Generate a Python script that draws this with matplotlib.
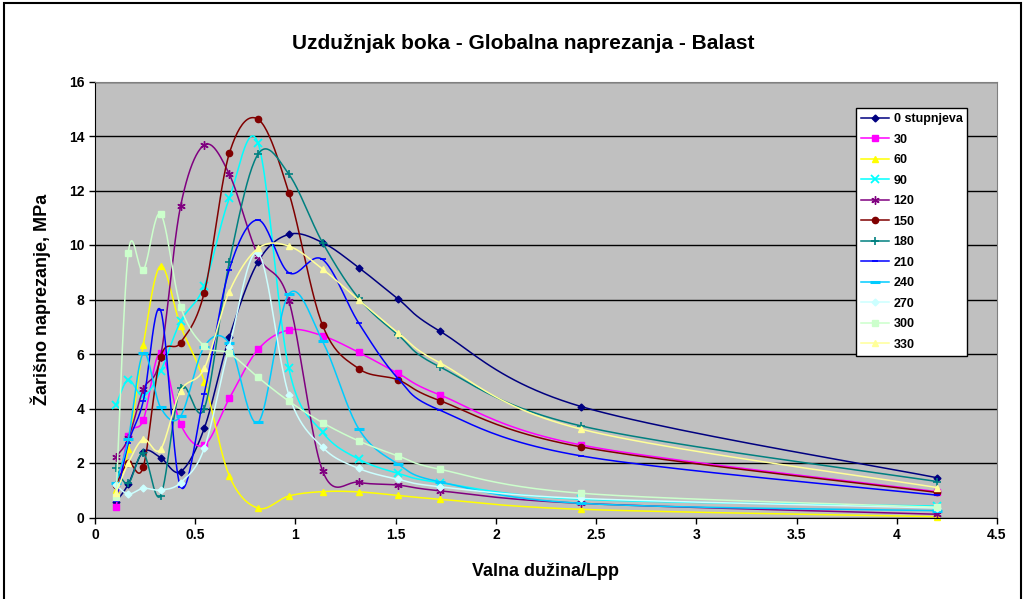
import numpy as np
import matplotlib
matplotlib.use('Agg')
import matplotlib.pyplot as plt
from matplotlib.patches import Rectangle

plt.rcParams['font.family'] = ['Liberation Sans', 'DejaVu Sans']
plt.rcParams['font.weight'] = 'bold'

# Wave length / Lpp values (x axis)
valna_duzina = [0.105, 0.166, 0.241, 0.327, 0.427, 0.545, 0.67, 0.814,
                0.967, 1.135, 1.316, 1.512, 1.72, 2.426, 4.2]

# Hot-spot stress (MPa) per heading
s0 = [0.58, 1.22, 2.42, 2.2, 1.68, 3.27, 6.62, 9.39, 10.39, 10.09, 9.17, 8.02, 6.84, 4.07, 1.46]
s30 = [0.37, 3.0, 3.58, 6.05, 3.42, 2.66, 4.37, 6.17, 6.88, 6.67, 6.06, 5.29, 4.5, 2.66, 0.95]
s60 = [1.0, 2.5, 6.33, 9.23, 7.03, 4.99, 1.53, 0.34, 0.79, 0.95, 0.94, 0.81, 0.67, 0.3, 0.03]
s90 = [4.13, 5.05, 4.46, 5.37, 7.2, 8.5, 11.71, 13.73, 5.47, 3.13, 2.14, 1.62, 1.28, 0.67, 0.42]
s120 = [2.23, 2.9, 4.7, 5.9, 11.43, 13.67, 12.6, 9.6, 7.96, 1.72, 1.29, 1.19, 0.98, 0.52, 0.12]
s150 = [1.2, 2.01, 1.86, 5.88, 6.42, 8.25, 13.36, 14.61, 11.92, 7.06, 5.46, 5.05, 4.29, 2.59, 0.92]
s180 = [1.8, 1.25, 2.35, 0.8, 4.74, 4.0, 9.37, 13.34, 12.6, 10.09, 8.04, 6.7, 5.53, 3.36, 1.32]
s210 = [0.6, 2.72, 4.28, 7.61, 1.13, 4.53, 9.1, 10.92, 8.98, 9.47, 7.13, 5.1, 3.94, 2.26, 0.82]
s240 = [1.28, 2.87, 6.03, 4.04, 3.72, 6.27, 6.39, 3.49, 8.2, 6.48, 3.25, 1.96, 1.31, 0.52, 0.25]
s270 = [1.19, 0.86, 1.07, 1.01, 1.28, 2.54, 6.27, 9.7, 4.5, 2.58, 1.8, 1.4, 1.13, 0.7, 0.35]
s300 = [0.76, 9.7, 9.08, 11.14, 7.74, 6.29, 6.02, 5.14, 4.27, 3.48, 2.81, 2.26, 1.77, 0.89, 0.38]
s330 = [0.9, 2.0, 2.87, 2.5, 4.65, 5.47, 8.29, 9.88, 9.96, 9.12, 7.98, 6.78, 5.68, 3.24, 1.1]

labels = ['0 stupnjeva', '30', '60', '90', '120', '150', '180', '210', '240', '270', '300', '330']
series = [s0, s30, s60, s90, s120, s150, s180, s210, s240, s270, s300, s330]

colors = ['#000080', '#FF00FF', '#FFFF00', '#00FFFF', '#800080', '#800000',
          '#008080', '#0000FF', '#00CCFF', '#CCFFFF', '#CCFFCC', '#FFFF99']
markers = ['D', 's', '^', 'x', (6, 2, 0), 'o', '+', '_', '_', 'D', 's', '^']
msizes = [3.5, 4.5, 4.5, 6, 6, 4.5, 6, 5, 7, 3.5, 4.5, 4.5]
mews = [1, 1, 1, 1.3, 1, 1, 1.2, 1.2, 2.2, 1, 1, 1]


def smooth(x, y, n=25):
    # Excel-like smoothed line: Catmull-Rom style cubic Bezier segments
    pts = np.column_stack([x, y]).astype(float)
    P = np.vstack([pts[0], pts, pts[-1]])
    t = np.linspace(0, 1, n)[:, None]
    out = [pts[:1]]
    for i in range(1, len(P) - 2):
        p0, p1, p2, p3 = P[i - 1], P[i], P[i + 1], P[i + 2]
        c1 = p1 + (p2 - p0) / 6
        c2 = p2 - (p3 - p1) / 6
        seg = (1 - t) ** 3 * p1 + 3 * (1 - t) ** 2 * t * c1 + 3 * (1 - t) * t ** 2 * c2 + t ** 3 * p2
        out.append(seg[1:])
    return np.vstack(out), n - 1


fig = plt.figure(figsize=(10.26, 5.99), dpi=100)
ax = fig.add_axes([95 / 1026, 1 - 517.5 / 599, 902 / 1026, 436 / 599])
ax.set_facecolor('#C0C0C0')

for y, lab, c, m, ms, mew in zip(series, labels, colors, markers, msizes, mews):
    curve, step = smooth(valna_duzina, y)
    idx = [k * step for k in range(len(valna_duzina))]
    ax.plot(curve[:, 0], curve[:, 1], color=c, lw=1.1, marker=m, markersize=ms,
            markeredgewidth=mew, markevery=idx, label=lab, clip_on=False)

ax.set_xlim(0, 4.5)
ax.set_ylim(0, 16)
ax.set_xticks(np.arange(0, 4.51, 0.5))
ax.set_xticklabels(['0', '0.5', '1', '1.5', '2', '2.5', '3', '3.5', '4', '4.5'])
ax.set_yticks(np.arange(0, 17, 2))
ax.tick_params(direction='out', length=4, width=1, labelsize=10, colors='black')
for lbl in ax.get_xticklabels() + ax.get_yticklabels():
    lbl.set_fontweight('bold')
ax.yaxis.grid(True, color='black', lw=1)
ax.set_axisbelow(True)
ax.spines['left'].set_color('black')
ax.spines['bottom'].set_color('black')
ax.spines['top'].set_color('#808080')
ax.spines['right'].set_color('#808080')

ax.set_xlabel('Valna dužina/Lpp', fontsize=13, fontweight='bold', labelpad=15)
ax.set_ylabel('Žarišno naprezanje, MPa', fontsize=13, fontweight='bold', labelpad=13)

fig.text(0.51, 0.928, 'Uzdužnjak boka - Globalna naprezanja - Balast',
         fontsize=15, fontweight='bold', ha='center', va='center')

leg = ax.legend(loc='upper left', bbox_to_anchor=(0.8437, 0.939), borderaxespad=0,
                fontsize=9, frameon=True, fancybox=False, framealpha=1,
                edgecolor='black', labelspacing=0.68, handlelength=2.2,
                handletextpad=0.4, borderpad=0.4)
leg.get_frame().set_linewidth(1)
for txt in leg.get_texts():
    txt.set_fontweight('bold')

fig.patches.append(Rectangle((4 / 1026, -0.02), 1017 / 1026, 1.02 - 3 / 599,
                             transform=fig.transFigure, fill=False,
                             edgecolor='black', lw=1.5))

fig.savefig('out.png', dpi=100)
